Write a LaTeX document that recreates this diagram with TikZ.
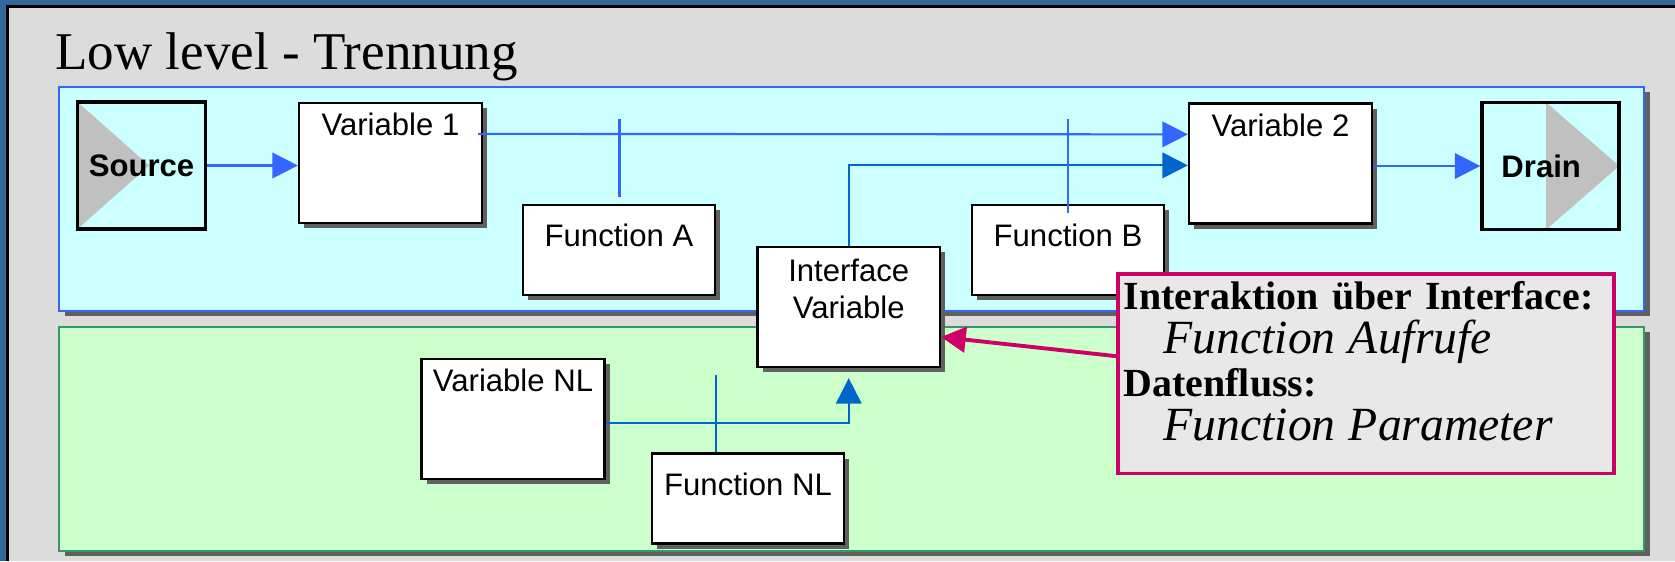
\documentclass[tikz,border=0pt]{standalone}
\usepackage{fontspec}
\setmainfont{Liberation Serif}
\setsansfont{Liberation Sans}
\usetikzlibrary{arrows.meta, calc, shadows}

\definecolor{slideblue}{HTML}{336699}
\definecolor{slidegray}{HTML}{DCDCDC}
\definecolor{cyanfill}{HTML}{CCFFFF}
\definecolor{cyanedge}{HTML}{3366FF}
\definecolor{greenfill}{HTML}{CCFFCC}
\definecolor{greenedge}{HTML}{339966}
\definecolor{shadowgray}{HTML}{606060}
\definecolor{flowblue}{HTML}{3366FF}
\definecolor{flowdark}{HTML}{0066CC}
\definecolor{trigray}{HTML}{C0C0C0}
\definecolor{notered}{HTML}{CC0066}
\definecolor{notefill}{HTML}{E8E8E8}

\newcommand{\blockfont}{\sffamily\fontsize{17.7}{21.5}\selectfont}
\newcommand{\notebig}{\itshape\fontsize{27.1}{24.7}\selectfont}

\begin{document}
\begin{tikzpicture}[x=0.02cm, y=-0.02cm,
  shade/.style={drop shadow={shadow xshift=3pt, shadow yshift=-3pt, fill=shadowgray, opacity=1}},
  panel/.style={line width=1.2pt, drop shadow={shadow xshift=3.3pt, shadow yshift=-3pt, fill=shadowgray, opacity=1}},
  block/.style={draw, line width=1.3pt, fill=white, shade, inner sep=0pt, font=\blockfont},
  varblock/.style={block, minimum width=3.66cm, minimum height=2.4cm},
  funblock/.style={block, minimum width=3.84cm, minimum height=1.8cm},
  caption/.style={anchor=base, inner sep=0pt, font=\blockfont},
  endblock/.style={draw, line width=2.2pt, minimum height=2.54cm, inner sep=0pt, font=\sffamily\bfseries\fontsize{17.7}{21.5}\selectfont},
  flow/.style={draw=flowblue, line width=1.2pt},
  flowarrow/.style={flow, -{Triangle[length=14.5pt, width=14.5pt]}},
  notebox/.style={draw=notered, line width=2pt, fill=notefill, text width=9.69cm, minimum height=3.98cm, inner xsep=0.12cm, inner ysep=0.16cm, align=left, font=\fontsize{22.7}{24.7}\selectfont},
  notearrow/.style={draw=notered, line width=2.2pt, -{Triangle[length=14pt, width=14.5pt]}}]

  \useasboundingbox (0,0) rectangle (1675,561);
  % slide background and frame
  \fill[slidegray] (0,0) rectangle (1675,561);
  \fill[black] (0,0) rectangle (1675,8);
  \fill[black] (0,0) rectangle (9,561);
  \fill[slideblue] (0,0) rectangle (1675,5);
  \fill[slideblue] (0,0) rectangle (6.4,561);

  \node[anchor=base west, inner sep=0pt, font=\fontsize{30.2}{36}\selectfont] (title) at (55,69) {Low level - Trennung};

  % the two levels
  \draw[panel, draw=cyanedge, fill=cyanfill] (59,87) rectangle (1644,311);
  \draw[panel, draw=greenedge, fill=greenfill] (59,327) rectangle (1644,551);

  \node[endblock, minimum width=2.56cm, path picture={
      \fill[trigray] (path picture bounding box.north west) -- (path picture bounding box.south west)
        -- ($(path picture bounding box.west)!0.56!(path picture bounding box.east)$) -- cycle;}] (source) at (141.5,165.5) {Source};
  \node[endblock, minimum width=2.74cm, path picture={
      \fill[trigray] ($(path picture bounding box.north west)!0.467!(path picture bounding box.north east)$)
        -- ($(path picture bounding box.south west)!0.467!(path picture bounding box.south east)$)
        -- (path picture bounding box.east) -- cycle;}] (drain) at (1550.7,166) {Drain\hspace*{0.38cm}};

  \node[varblock, label={[caption, yshift=-0.68cm]north:Variable 1}] (var1) at (390.5,163) {};
  \node[varblock, label={[caption, yshift=-0.68cm]north:Variable 2}] (var2) at (1280.5,163.5) {};
  \node[funblock, label={[caption, yshift=-0.86cm]north:Function A}] (funA) at (619,250) {};
  \node[funblock, label={[caption, yshift=-0.86cm]north:Function B}] (funB) at (1068,250) {};
  \node[varblock, minimum width=3.65cm, label={[caption, align=center, yshift=-1.46cm]north:Interface\\Variable}] (iface) at (848.75,307) {};
  \node[varblock, label={[caption, yshift=-0.68cm]north:Variable NL}] (varNL) at (513,419) {};
  \node[funblock, label={[caption, yshift=-0.86cm]north:Function NL}] (funNL) at (748,498.6) {};

  \coordinate (tickA) at (619.5,119);
  \coordinate (tickB) at (1068,119);
  \coordinate (tickNL) at (716,375);

  % data flow
  \draw[flowarrow] (source.east) -- (source.east -| var1.west);
  \draw[flowarrow] ($(var1.north east)+(-5,32)$) -- ($(var2.north west)+(0,32)$);
  \draw[flowarrow, draw=flowdark] (iface.north) |- ($(var2.north west)+(0,63)$);
  \draw[flowarrow] (var2.east |- drain.west) -- (drain.west);
  \draw[flowarrow, draw=flowdark, shorten >=5.7pt] ($(varNL.east)+(0,4)$) -| (iface.south);
  \draw[flow] ($(tickA |- funA.north)+(0,-7)$) -- (tickA);
  \draw[flow] ($(tickB |- funB.north)+(0,9)$) -- (tickB);
  \draw[flow, draw=flowdark] (tickNL |- funNL.north) -- (tickNL);

  % comment box
  \node[notebox, anchor=north west] (note) at (1116,272) {\textbf{Interaktion über Interface:}\\
    \hspace*{0.8cm}{\notebig Function Aufrufe}\\
    \textbf{Datenfluss:}\\
    \hspace*{0.8cm}{\notebig Function Parameter}\rule[-0.51cm]{0pt}{0pt}};
  \draw[notearrow] (note.176) -- (iface.-18);
\end{tikzpicture}
\end{document}
